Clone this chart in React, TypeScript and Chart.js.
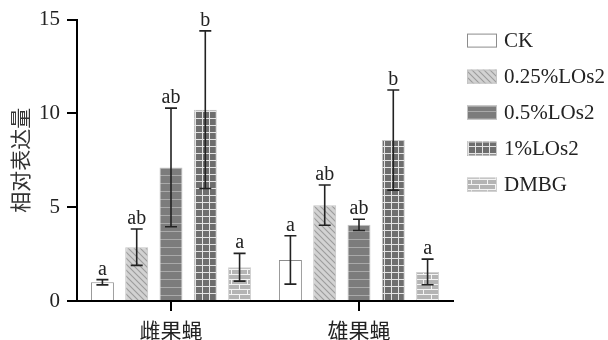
import React, { useEffect, useRef } from "react";
import { Chart, registerables } from "chart.js";

Chart.register(...registerables);

const categories = ["雌果蝇", "雄果蝇"];
const treatments = ["CK", "0.25%LOs2", "0.5%LOs2", "1%LOs2", "DMBG"];

const ckMean = [1.0, 2.19];
const low025Mean = [2.87, 5.11];
const mid05Mean = [7.12, 4.06];
const high1Mean = [10.2, 8.58];
const dmbgMean = [1.8, 1.55];

const ckErr = [0.14, 1.29];
const low025Err = [0.97, 1.07];
const mid05Err = [3.16, 0.3];
const high1Err = [4.2, 2.67];
const dmbgErr = [0.74, 0.68];

const ckSig = ["a", "a"];
const low025Sig = ["ab", "ab"];
const mid05Sig = ["ab", "ab"];
const high1Sig = ["b", "b"];
const dmbgSig = ["a", "a"];

const yTicks = [0, 5, 10, 15];

const SERIF = "'Liberation Serif', 'Times New Roman', 'Noto Sans CJK SC', serif";
const CJK = "'Noto Sans CJK SC', 'Liberation Serif', sans-serif";

type PatternKind = "plain" | "diag" | "hlines" | "grid" | "brick";

function makePattern(kind: PatternKind): CanvasPattern | string {
  if (kind === "plain") return "#ffffff";
  const c = document.createElement("canvas");
  const g = c.getContext("2d")!;
  if (kind === "diag") {
    c.width = 6;
    c.height = 6;
    g.fillStyle = "#d2d2d2";
    g.fillRect(0, 0, 6, 6);
    g.strokeStyle = "#9c9c9c";
    g.lineWidth = 1.1;
    g.beginPath();
    g.moveTo(-1, -1);
    g.lineTo(7, 7);
    g.moveTo(-4, 2);
    g.lineTo(4, 10);
    g.moveTo(2, -4);
    g.lineTo(10, 4);
    g.stroke();
  } else if (kind === "hlines") {
    c.width = 8;
    c.height = 8;
    g.fillStyle = "#7c7c7c";
    g.fillRect(0, 0, 8, 8);
    g.fillStyle = "#a9a9a9";
    g.fillRect(0, 7, 8, 1);
  } else if (kind === "grid") {
    c.width = 7;
    c.height = 7;
    g.fillStyle = "#6e6e6e";
    g.fillRect(0, 0, 7, 7);
    g.fillStyle = "#e4e4e4";
    g.fillRect(0, 6, 7, 1);
    g.fillRect(6, 0, 1, 7);
  } else {
    c.width = 16;
    c.height = 10;
    g.fillStyle = "#b4b4b4";
    g.fillRect(0, 0, 16, 10);
    g.fillStyle = "#f4f4f4";
    g.fillRect(0, 4, 16, 1);
    g.fillRect(0, 9, 16, 1);
    g.fillRect(7, 0, 1, 4);
    g.fillRect(15, 5, 1, 4);
  }
  return g.createPattern(c, "repeat")!;
}

const seriesMeans = [ckMean, low025Mean, mid05Mean, high1Mean, dmbgMean];
const seriesErrs = [ckErr, low025Err, mid05Err, high1Err, dmbgErr];
const seriesSig = [ckSig, low025Sig, mid05Sig, high1Sig, dmbgSig];
const seriesKinds: PatternKind[] = ["plain", "diag", "hlines", "grid", "brick"];
const seriesBorders = ["#8c8c8c", "#c4c4c4", "#c4c4c4", "#c8c8c8", "#d0d0d0"];

const errorBarPlugin = {
  id: "errorBars",
  afterDatasetsDraw(chart: any) {
    const { ctx } = chart;
    const y = chart.scales.y;
    ctx.save();
    chart.data.datasets.forEach((ds: any, di: number) => {
      const meta = chart.getDatasetMeta(di);
      meta.data.forEach((bar: any, i: number) => {
        const m = ds.data[i];
        const e = ds.errors[i];
        const yTop = y.getPixelForValue(m + e);
        const yBot = y.getPixelForValue(m - e);
        const x = bar.x;
        const cap = 6;
        ctx.strokeStyle = "#222";
        ctx.lineWidth = 1.6;
        ctx.beginPath();
        ctx.moveTo(x, yTop);
        ctx.lineTo(x, yBot);
        ctx.moveTo(x - cap, yTop);
        ctx.lineTo(x + cap, yTop);
        ctx.moveTo(x - cap, yBot);
        ctx.lineTo(x + cap, yBot);
        ctx.stroke();
        ctx.fillStyle = "#222";
        ctx.font = `20px ${SERIF}`;
        ctx.textAlign = "center";
        ctx.textBaseline = "alphabetic";
        ctx.fillText(ds.letters[i], x, yTop - 5);
      });
    });
    ctx.restore();
  },
};

const legendPlugin = {
  id: "sideLegend",
  afterDraw(chart: any) {
    const { ctx, chartArea } = chart;
    const x0 = chartArea.right + 14;
    const yStart = chartArea.top + 21;
    const step = 36;
    ctx.save();
    chart.data.datasets.forEach((ds: any, i: number) => {
      const yc = yStart + i * step;
      ctx.fillStyle = ds.backgroundColor;
      ctx.fillRect(x0, yc - 7, 30, 14);
      ctx.strokeStyle = ds.borderColor;
      ctx.lineWidth = 1;
      ctx.strokeRect(x0 + 0.5, yc - 6.5, 29, 13);
      ctx.fillStyle = "#222";
      ctx.font = `21px ${SERIF}`;
      ctx.textAlign = "left";
      ctx.textBaseline = "middle";
      ctx.fillText(ds.label, x0 + 37, yc + 1);
    });
    ctx.restore();
  },
};

export default function App() {
  const ref = useRef<HTMLCanvasElement>(null);

  useEffect(() => {
    const canvas = ref.current!;
    const datasets = treatments.map((name, i) => ({
      label: name,
      data: seriesMeans[i],
      errors: seriesErrs[i],
      letters: seriesSig[i],
      backgroundColor: makePattern(seriesKinds[i]),
      borderColor: seriesBorders[i],
      borderWidth: 1,
      categoryPercentage: 0.912,
      barPercentage: 0.67,
    }));

    const chart = new Chart(canvas, {
      type: "bar",
      data: { labels: categories, datasets: datasets as any },
      options: {
        responsive: false,
        animation: false,
        layout: { padding: { top: 8, right: 155, bottom: 0, left: 0 } },
        plugins: {
          legend: { display: false },
          tooltip: { enabled: false },
        },
        scales: {
          x: {
            offset: true,
            grid: {
              offset: false,
              drawOnChartArea: false,
              drawTicks: true,
              tickLength: 10,
              color: "#000",
              lineWidth: 2,
            },
            border: { display: true, color: "#000", width: 2 },
            ticks: {
              color: "#222",
              padding: 6,
              font: { family: CJK, size: 21 },
            },
            afterFit(axis: any) {
              axis.height = 39;
            },
          },
          y: {
            min: 0,
            max: 15,
            afterBuildTicks(axis: any) {
              axis.ticks = yTicks.map((v) => ({ value: v }));
            },
            grid: {
              drawOnChartArea: false,
              drawTicks: true,
              tickLength: 10,
              color: "#000",
              lineWidth: 2,
            },
            border: { display: true, color: "#000", width: 2 },
            ticks: {
              color: "#222",
              padding: 7,
              font: { family: SERIF, size: 21 },
            },
            title: {
              display: true,
              text: "相对表达量",
              color: "#333",
              font: { family: CJK, size: 21 },
              padding: { top: 7, bottom: 0 },
            },
            afterFit(axis: any) {
              axis.width = 77;
            },
          },
        },
      },
      plugins: [errorBarPlugin, legendPlugin],
    });

    return () => chart.destroy();
  }, []);

  return (
    <div style={{ position: "fixed", left: 0, top: 0, width: 608, height: 340, background: "#fff" }}>
      <canvas ref={ref} width={608} height={340} style={{ display: "block" }} />
    </div>
  );
}
